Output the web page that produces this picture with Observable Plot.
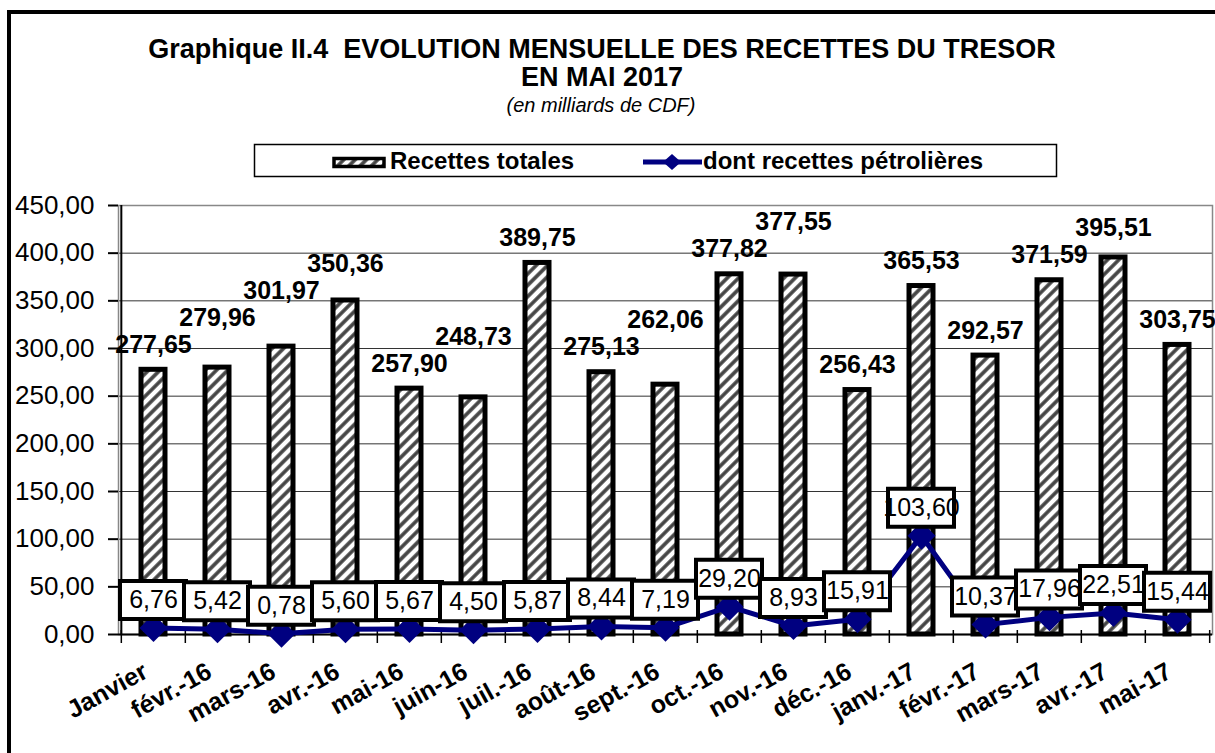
<!DOCTYPE html>
<html>
<head>
<meta charset="utf-8">
<script src="https://cdn.jsdelivr.net/npm/d3@7"></script>
<script src="https://cdn.jsdelivr.net/npm/@observablehq/plot@0.6"></script>
<style>
  html, body { margin: 0; padding: 0; background: #fff; }
  body { width: 1215px; height: 753px; overflow: hidden; position: relative;
         font-family: "Liberation Sans", Arial, sans-serif; }
  #frame { position: absolute; left: 7px; top: 10px; width: 1240px; height: 800px;
           border: 4.5px solid #000; box-sizing: border-box; z-index: 10; pointer-events: none; }
  #header { position: absolute; left: 0; top: 0; }
  #chart { position: absolute; left: 0; top: 185px; }
</style>
</head>
<body>
<div id="header"></div>
<div id="chart"></div>
<div id="frame"></div>
<script>
// ---- Data ----
const months = ["Janvier","févr.-16","mars-16","avr.-16","mai-16","juin-16","juil.-16","août-16","sept.-16","oct.-16","nov.-16","déc.-16","janv.-17","févr.-17","mars-17","avr.-17","mai-17"];
const totals = [277.65,279.96,301.97,350.36,257.90,248.73,389.75,275.13,262.06,377.82,377.55,256.43,365.53,292.57,371.59,395.51,303.75];
const petrol = [6.76,5.42,0.78,5.60,5.67,4.50,5.87,8.44,7.19,29.20,8.93,15.91,103.60,10.37,17.96,22.51,15.44];
const yTicks = [0,50,100,150,200,250,300,350,400,450];
const titleLine1 = "Graphique II.4  EVOLUTION MENSUELLE DES RECETTES DU TRESOR";
const titleLine2 = "EN MAI 2017";
const subtitle = "(en milliards de CDF)";
const seriesNames = ["Recettes totales", "dont recettes pétrolières"];

const FONT = "'Liberation Sans', Arial, sans-serif";
const NAVY = "#000080";
const locale = d3.formatLocale({decimal: ",", thousands: "\u00a0", grouping: [3], currency: ["", ""]});
const fmt = locale.format(".2f");

// ---- Geometry ----
const W = 1215, H = 568, ML = 118, MR = 3, MT = 20, MB = 119;
const step = (W - ML - MR) / months.length;
const unitsPerPx = 450 / (H - MT - MB);

// Simple collision avoidance for the total labels: when a label would sit at
// nearly the same height as its left neighbour, lift it above that neighbour.
const labelGapPx = 27;
const labelY = [];
totals.forEach((v, i) => {
  let y = v;
  if (i > 0 && Math.abs(y - labelY[i - 1]) < labelGapPx * unitsPerPx) y = labelY[i - 1] + labelGapPx * unitsPerPx;
  labelY.push(y);
});

const data = months.map((m, i) => ({month: m, total: totals[i], petrol: petrol[i], labelY: labelY[i]}));

// ---- Header (title, subtitle, legend) ----
const hatchDef = (id) => `<pattern id="${id}" patternUnits="userSpaceOnUse" width="8" height="8" patternTransform="rotate(45)">
  <rect width="8" height="8" fill="#fff"/>
  <line x1="4" y1="0" x2="4" y2="8" stroke="#444" stroke-width="3.6"/>
</pattern>`;

const header = d3.select("#header").append("svg")
  .attr("width", 1215).attr("height", 185)
  .style("font-family", FONT);
header.append("defs").html(hatchDef("hatchL"));
header.append("text").attr("x", 602).attr("y", 58).attr("text-anchor", "middle")
  .style("white-space", "pre").attr("font-weight", "bold").attr("font-size", 27).text(titleLine1);
header.append("text").attr("x", 602).attr("y", 86).attr("text-anchor", "middle")
  .attr("font-weight", "bold").attr("font-size", 27).text(titleLine2);
header.append("text").attr("x", 601).attr("y", 112).attr("text-anchor", "middle")
  .attr("font-style", "italic").attr("font-size", 20).text(subtitle);
header.append("rect").attr("x", 254.5).attr("y", 144.5).attr("width", 802).attr("height", 32)
  .attr("fill", "#fff").attr("stroke", "#000").attr("stroke-width", 1.5);
header.append("rect").attr("x", 334).attr("y", 158.5).attr("width", 50).attr("height", 8)
  .attr("fill", "url(#hatchL)").attr("stroke", "#000").attr("stroke-width", 3.5);
header.append("text").attr("x", 390).attr("y", 169).attr("font-weight", "bold").attr("font-size", 24).text(seriesNames[0]);
header.append("line").attr("x1", 643).attr("x2", 702).attr("y1", 162).attr("y2", 162)
  .attr("stroke", NAVY).attr("stroke-width", 5);
header.append("path").attr("d", "M672,154 L681,162 L672,170 L663,162 Z").attr("fill", NAVY);
header.append("text").attr("x", 703).attr("y", 169).attr("font-weight", "bold").attr("font-size", 24).text(seriesNames[1]);

// ---- Chart ----
const boxMarks = data.flatMap(d => [
  Plot.tickY([d], {x: "month", y: "petrol", dy: -28, stroke: "#000", strokeWidth: 42, insetLeft: -23, insetRight: -23}),
  Plot.tickY([d], {x: "month", y: "petrol", dy: -28, stroke: "#fff", strokeWidth: 34, insetLeft: -19, insetRight: -19}),
  Plot.text([d], {x: "month", y: "petrol", dy: -28, text: v => fmt(v.petrol), fontSize: 25, fill: "#000"})
]);

const chart = Plot.plot({
  width: W, height: H,
  marginTop: MT, marginRight: MR, marginBottom: MB, marginLeft: ML,
  style: {background: "transparent", fontFamily: FONT, fontSize: "25px", color: "#000", overflow: "visible"},
  x: {domain: months, paddingInner: 0.63, paddingOuter: 0.315, axis: null},
  y: {domain: [0, 450], axis: null},
  marks: [
    Plot.ruleY(yTicks, {stroke: "#333", strokeWidth: 1}),
    Plot.frame({stroke: "#888", strokeWidth: 1.5}),
    Plot.barY(data, {x: "month", y: "total", fill: "url(#hatch)", stroke: "#000", strokeWidth: 5}),
    Plot.ruleX(months, {x: d => d, y1: 0, y2: 0, insetTop: -4, insetBottom: -9, dx: -step / 2, stroke: "#000", strokeWidth: 1.5}),
    Plot.ruleX(months.slice(-1), {x: d => d, y1: 0, y2: 0, insetTop: -4, insetBottom: -9, dx: step / 2, stroke: "#000", strokeWidth: 1.5}),
    Plot.ruleX(months.slice(0, 1), {x: d => d, dx: -step / 2, stroke: "#000", strokeWidth: 2}),
    Plot.ruleY([0], {stroke: "#000", strokeWidth: 2}),
    Plot.axisY(yTicks, {tickSize: 10, tickPadding: 14, tickFormat: fmt, fontSize: 26, strokeWidth: 2, label: null}),
    Plot.text(data, {x: "month", y: "labelY", text: d => fmt(d.total), lineAnchor: "bottom", dy: -17,
                     fontWeight: "bold", fontSize: 25, fill: "#000"}),
    Plot.line(data, {x: "month", y: "petrol", stroke: NAVY, strokeWidth: 5, strokeLinejoin: "round"}),
    Plot.dot(data, {x: "month", y: "petrol", symbol: "diamond2", r: 12.6, fill: NAVY, stroke: "none"}),
    ...boxMarks,
    Plot.text(months, {x: d => d, frameAnchor: "bottom", dx: -4, dy: 42, rotate: -29, textAnchor: "end",
                       lineAnchor: "bottom", fontWeight: "bold", fontSize: 25, fill: "#000"})
  ]
});
d3.select(chart).insert("defs", ":first-child").html(hatchDef("hatch"));
document.getElementById("chart").appendChild(chart);
</script>
</body>
</html>
